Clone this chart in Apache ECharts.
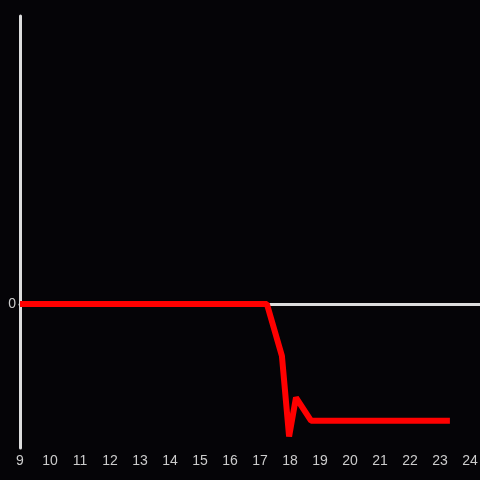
<!DOCTYPE html>
<html>
<head>
<meta charset="utf-8">
<script src="https://cdn.jsdelivr.net/npm/echarts@6/dist/echarts.min.js"></script>
<style>
  html, body { margin: 0; padding: 0; background: #050407; }
  #chart { width: 480px; height: 480px; }
</style>
</head>
<body>
<div id="chart"></div>
<script>
// hours and values
const hours = [9, 17.23, 17.73, 17.97, 18.2, 18.7, 23.33];
const values = [0, 0, -0.36, -0.92, -0.65, -0.81, -0.81];

const chart = echarts.init(document.getElementById('chart'));

const xRange = { type: 'value', min: 9, max: 24 + 1 / 3, interval: 1 };

const option = {
  backgroundColor: '#050407',
  animation: false,
  grid: { left: 20, right: 0, top: 16, bottom: 32, outerBoundsMode: 'none', containLabel: false },
  xAxis: [
    {
      // zero line
      ...xRange,
      axisLine: { show: true, onZero: true, lineStyle: { color: '#dddddd', width: 3 } },
      axisTick: { show: false },
      axisLabel: { show: false },
      splitLine: { show: false }
    },
    {
      ...xRange,
      position: 'bottom',
      axisLine: { show: false, onZero: false },
      axisTick: { show: false },
      splitLine: { show: false },
      axisLabel: {
        color: '#cccccc',
        fontSize: 14,
        margin: 6,
        formatter: v => (Math.abs(v - Math.round(v)) < 1e-6 ? String(Math.round(v)) : '')
      }
    }
  ],
  yAxis: {
    type: 'value',
    min: -1,
    max: 2,
    interval: 1,
    axisLine: { show: true, lineStyle: { color: '#dddddd', width: 3 } },
    axisTick: { show: false },
    splitLine: { show: false },
    axisLabel: {
      color: '#cccccc',
      fontSize: 14,
      margin: 4,
      formatter: v => (v === 0 ? '0' : '')
    }
  },
  series: [
    {
      type: 'line',
      xAxisIndex: 0,
      data: hours.map((h, i) => [h, values[i]]),
      showSymbol: false,
      lineStyle: { color: '#ff0000', width: 6 }
    }
  ]
};

chart.setOption(option);
</script>
</body>
</html>
